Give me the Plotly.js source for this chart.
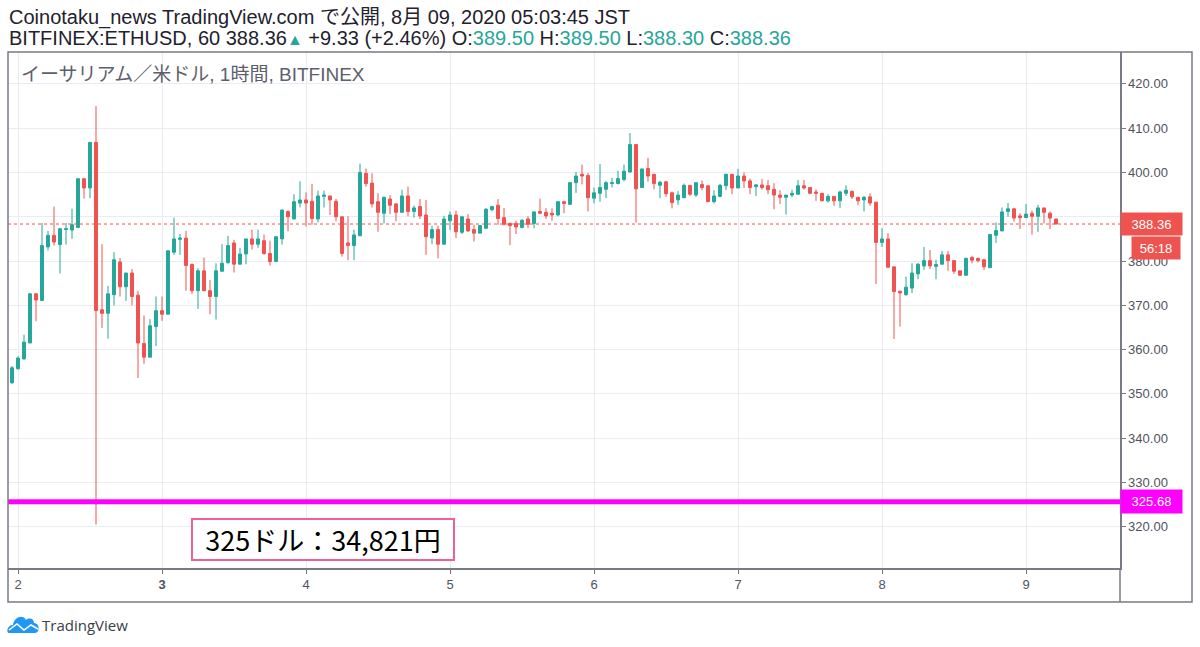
<!DOCTYPE html>
<html>
<head>
<meta charset="utf-8">
<script src="https://cdn.plot.ly/plotly-3.0.1.min.js"></script>
<style>
html,body{margin:0;padding:0;background:#fff;}
#chart{width:1200px;height:647px;}
</style>
</head>
<body>
<div id="chart"></div>
<script>
// ---- data (hourly candles, BITFINEX ETH/USD, starting 2020-08-01 23:00) ----
const startTimeUTC = Date.UTC(2020, 7, 1, 23, 0, 0);

const openPrices = [
352.5,355.7,357.9,361.5,372.6,371.1,383.2,385.8,383.7,387.1,
387.0,387.6,398.6,396.5,406.8,369.0,368.2,372.4,379.8,374.2,
377.3,372.3,361.4,358.3,365.2,368.8,368.0,382.0,384.9,385.2,
379.2,373.3,377.8,373.3,372.0,377.7,379.6,384.1,379.3,381.6,
385.0,383.8,384.6,381.7,379.9,385.0,391.2,389.5,393.1,393.8,
393.5,389.5,394.6,394.7,393.5,390.0,384.1,383.5,385.7,399.8,
397.6,393.4,390.8,394.0,392.9,391.0,394.7,391.2,392.3,390.4,
385.2,387.1,383.8,389.1,390.4,386.5,389.5,387.1,386.3,387.4,
391.6,392.6,389.8,388.5,388.5,387.6,389.5,388.5,391.2,391.0,
390.8,390.4,393.4,392.8,397.7,399.6,399.3,394.2,395.3,396.2,
397.5,397.5,398.4,400.1,406.3,396.6,400.9,399.6,397.1,397.9,
395.4,393.8,394.3,397.1,394.9,397.3,397.0,393.4,394.6,397.0,
399.6,396.5,399.2,398.1,396.8,397.2,397.0,396.2,394.9,394.4,
394.9,395.1,397.0,396.6,395.6,395.3,393.6,394.6,393.6,395.3,
395.7,394.4,393.8,394.5,393.3,384.2,385.0,378.7,373.2,372.4,
373.9,377.1,378.9,380.1,378.8,379.3,381.4,380.1,377.8,376.8,
380.8,380.6,380.3,378.5,385.8,386.8,391.2,391.8,390.2,389.8,
390.8,390.1,392.0,390.8,389.5
];
const highPrices = [
356.3,358.5,363.4,372.8,372.8,388.6,386.8,392.3,387.4,388.6,
391.8,398.6,398.6,406.8,415.0,383.8,374.4,382.0,380.7,377.3,
378.2,373.3,367.7,366.9,372.0,372.0,382.5,389.8,386.1,386.8,
379.5,378.4,380.8,375.7,379.5,383.8,385.7,384.8,383.0,385.0,
387.1,387.1,386.0,384.6,385.5,391.7,391.4,395.1,398.0,395.5,
397.4,395.9,395.9,394.7,394.0,390.0,390.1,387.1,402.0,400.9,
399.8,395.3,394.5,394.9,393.1,396.1,396.8,392.5,394.0,393.8,
388.0,388.0,390.2,391.2,391.4,390.0,390.6,388.2,388.0,392.0,
392.5,394.0,392.0,388.7,389.1,389.5,390.1,391.2,394.1,391.9,
391.9,393.6,393.6,397.8,400.1,401.8,399.9,396.6,401.9,398.1,
398.8,400.4,401.8,408.9,406.4,400.8,403.3,399.6,398.1,398.1,
395.7,395.8,397.5,397.1,397.8,398.2,397.0,396.0,397.4,399.6,
399.6,400.8,400.0,398.6,397.4,398.5,398.3,397.6,396.0,394.9,
396.1,398.3,398.3,396.6,396.2,395.3,395.1,394.6,395.9,397.1,
396.0,394.5,394.7,395.3,393.3,387.4,386.3,378.7,373.3,376.5,
379.5,379.5,383.2,382.5,380.3,382.3,382.3,380.1,377.8,380.8,
381.2,380.8,380.5,386.0,388.7,392.1,393.1,392.0,390.8,392.9,
391.4,392.7,392.0,391.2,389.5
];
const lowPrices = [
352.3,355.5,357.8,361.5,366.4,371.0,382.4,383.5,377.2,383.7,
385.0,387.4,394.1,394.2,320.5,364.9,362.5,370.0,372.0,371.0,
370.0,353.6,356.8,358.3,360.8,366.5,367.9,381.4,381.4,373.3,
372.6,369.2,373.2,368.0,366.8,377.6,379.5,377.4,379.2,379.3,
382.6,383.0,381.4,379.0,379.9,383.7,386.7,389.5,392.1,387.8,
388.2,388.7,392.1,390.4,389.0,381.0,380.2,380.2,385.7,396.8,
392.1,386.6,388.5,390.6,389.0,391.0,390.1,389.8,389.5,381.4,
383.8,380.6,383.8,387.0,385.2,386.1,386.6,384.4,386.3,387.2,
391.2,388.2,388.0,383.6,386.1,387.4,387.4,387.4,390.6,389.5,
389.1,390.1,390.8,392.8,395.4,397.3,391.2,393.0,393.4,394.2,
396.6,397.3,398.0,400.0,388.7,396.6,397.9,396.2,394.2,394.5,
391.9,392.7,394.2,394.7,394.5,396.0,393.4,393.0,394.4,396.0,
395.1,396.5,396.5,395.1,394.7,396.1,395.1,391.7,392.9,390.5,
394.4,394.9,396.1,395.1,393.6,393.5,393.2,392.5,392.0,394.7,
394.0,392.6,391.2,392.5,374.8,383.2,378.6,362.4,365.2,372.2,
372.8,375.9,378.0,378.2,375.9,379.2,377.8,377.1,376.7,376.7,
379.5,379.7,378.0,378.5,384.1,386.8,390.0,388.9,387.2,389.7,
386.0,386.6,388.5,387.2,388.3
];
const closePrices = [
355.9,358.1,361.7,372.6,371.2,383.5,385.8,384.3,387.3,387.3,
388.2,398.6,396.5,406.8,368.8,368.2,372.6,380.3,374.2,377.3,
372.0,361.5,358.3,365.4,368.8,368.0,382.3,385.0,385.2,379.0,
373.3,377.8,373.3,372.0,377.8,379.5,383.5,379.3,381.6,385.0,
383.8,385.0,381.7,379.9,385.5,391.5,390.0,393.4,393.8,393.1,
389.6,394.7,394.9,393.8,390.0,381.7,383.5,385.9,400.0,397.5,
392.9,391.0,394.4,392.6,391.0,394.7,391.2,392.0,390.2,385.5,
387.1,383.8,389.5,390.4,386.6,390.0,386.8,386.3,388.0,391.7,
392.3,389.6,388.3,388.0,387.7,389.2,388.3,391.1,390.8,390.2,
390.4,393.4,393.0,397.7,399.2,399.2,394.3,395.4,396.6,397.7,
397.7,398.6,400.3,406.3,396.3,400.8,399.2,397.5,397.8,395.2,
393.2,394.9,397.1,395.1,397.7,396.6,393.4,394.7,397.1,399.6,
396.5,399.2,398.1,396.6,397.2,396.6,396.1,394.9,394.4,394.9,
395.3,397.0,396.5,395.3,395.3,393.6,394.6,393.6,395.6,396.0,
394.5,393.6,394.4,393.1,384.2,385.0,378.6,373.1,372.8,374.1,
377.3,379.3,380.1,378.9,379.2,381.4,380.1,377.7,376.8,380.6,
380.2,380.1,378.7,386.0,386.9,391.1,391.8,389.7,389.8,390.6,
390.1,392.0,391.0,389.7,388.36
];

const dayTickDates = ['2020-08-02','2020-08-03','2020-08-04','2020-08-05','2020-08-06','2020-08-07','2020-08-08','2020-08-09'];
const dayTickLabels = ['2','<b>3</b>','4','5','6','7','8','9'];
const priceTickValues = [320,330,340,350,360,370,380,390,400,410,420];
// 390.00 sits behind the last-price label in the reference, so it is left blank
const priceTickLabels = ['320.00','330.00','340.00','350.00','360.00','370.00','380.00','','400.00','410.00','420.00'];

const lastPrice = 388.36;
const levelPrice = 325.68;
const countdownText = '56:18';
const chartTitle = 'イーサリアム／米ドル, 1時間, BITFINEX';
const noteText = '325ドル：34,821円';
const headerLine1 = 'Coinotaku_news TradingView.com で公開, 8月 09, 2020 05:03:45 JST';

// ---- build x times ----
const times = openPrices.map((_, i) =>
  new Date(startTimeUTC + i * 3600e3).toISOString().slice(0, 16).replace('T', ' '));

// ---- pixel helpers (plot area: x 8..1120, y 52..568) ----
const PL = 8, PR = 1120, PT = 52, PB = 568;
const px = x => (x - PL) / (PR - PL);
const py = y => (PB - y) / (PB - PT);

const GREEN = '#26a69a', RED = '#ef5350', AXIS = '#787b86', GRID = '#e7edf3';

const trace = {
  type: 'candlestick',
  x: times,
  open: openPrices, high: highPrices, low: lowPrices, close: closePrices,
  increasing: {line: {color: GREEN, width: 1}, fillcolor: GREEN},
  decreasing: {line: {color: RED, width: 1}, fillcolor: RED},
  whiskerwidth: 0,
  hoverinfo: 'skip',
  showlegend: false
};

// cloud logo path
const cloud = 'M ' + px(9) + ',' + py(633) +
  ' C ' + px(6) + ',' + py(633) + ' ' + px(7) + ',' + py(625) + ' ' + px(13) + ',' + py(625) +
  ' C ' + px(14) + ',' + py(617) + ' ' + px(23) + ',' + py(614) + ' ' + px(26) + ',' + py(620) +
  ' C ' + px(30) + ',' + py(617) + ' ' + px(34) + ',' + py(619) + ' ' + px(34) + ',' + py(623) +
  ' C ' + px(40) + ',' + py(623) + ' ' + px(40) + ',' + py(633) + ' ' + px(35) + ',' + py(633) + ' Z';
const zig = 'M ' + px(9) + ',' + py(630) + ' L ' + px(17) + ',' + py(624) + ' L ' + px(24) + ',' + py(630) +
  ' L ' + px(31) + ',' + py(625) + ' L ' + px(38) + ',' + py(629);

const hdrFont = 'Liberation Sans, Noto Sans CJK JP, sans-serif';
const line2 = 'BITFINEX:ETHUSD, 60 388.36<span style="color:' + GREEN + ';font-size:16px">▲</span> +9.33 (+2.46%) ' +
  'O:<span style="color:' + GREEN + '">389.50</span> H:<span style="color:' + GREEN + '">389.50</span> ' +
  'L:<span style="color:' + GREEN + '">388.30</span> C:<span style="color:' + GREEN + '">388.36</span>';

const layout = {
  width: 1200, height: 647,
  margin: {l: PL, r: 1200 - PR, t: PT, b: 647 - PB},
  paper_bgcolor: '#ffffff', plot_bgcolor: '#ffffff',
  showlegend: false,
  xaxis: {
    type: 'date',
    range: ['2020-08-01 22:20', '2020-08-09 15:40'],
    rangeslider: {visible: false},
    tickmode: 'array', tickvals: dayTickDates, ticktext: dayTickLabels,
    showgrid: true, gridcolor: GRID, gridwidth: 1,
    showline: true, linecolor: AXIS, linewidth: 1.5,
    ticks: 'outside', ticklen: 4, tickcolor: AXIS,
    tickfont: {family: 'Liberation Sans, sans-serif', size: 13, color: '#50535e'},
    zeroline: false, fixedrange: true
  },
  yaxis: {
    side: 'right',
    range: [310.7, 427.2],
    tickmode: 'array', tickvals: priceTickValues, ticktext: priceTickLabels,
    showgrid: true, gridcolor: GRID, gridwidth: 1,
    showline: true, linecolor: AXIS, linewidth: 1.5,
    ticks: 'outside', ticklen: 4, tickcolor: AXIS,
    tickfont: {family: 'Liberation Sans, sans-serif', size: 13, color: '#50535e'},
    zeroline: false, fixedrange: true
  },
  shapes: [
    {type: 'line', xref: 'paper', yref: 'y', x0: 0, x1: 1, y0: lastPrice, y1: lastPrice,
     line: {color: RED, width: 1, dash: 'dot'}},
    {type: 'line', xref: 'paper', yref: 'y', x0: 0, x1: 1, y0: levelPrice, y1: levelPrice,
     line: {color: '#ff00ff', width: 5}},
    {type: 'rect', xref: 'paper', yref: 'paper', x0: 0, x1: px(1192), y0: py(602), y1: 1,
     line: {color: AXIS, width: 1.5}},
    {type: 'line', xref: 'paper', yref: 'paper', x0: 1, x1: 1, y0: py(602), y1: 0,
     line: {color: AXIS, width: 1.5}},
    {type: 'path', xref: 'paper', yref: 'paper', path: cloud, fillcolor: '#2196f3', line: {width: 0}},
    {type: 'path', xref: 'paper', yref: 'paper', path: zig, line: {color: '#ffffff', width: 1.5}}
  ],
  annotations: [
    {xref: 'paper', yref: 'paper', x: px(7), y: py(17), xanchor: 'left', yanchor: 'middle',
     text: headerLine1, showarrow: false, font: {family: hdrFont, size: 20, color: '#1e222d'}},
    {xref: 'paper', yref: 'paper', x: px(7), y: py(38), xanchor: 'left', yanchor: 'middle',
     text: line2, showarrow: false, font: {family: hdrFont, size: 20, color: '#1e222d'}},
    {xref: 'paper', yref: 'paper', x: px(19), y: py(75), xanchor: 'left', yanchor: 'middle',
     text: chartTitle, showarrow: false, font: {family: hdrFont, size: 19, color: '#5d606b'}},
    {xref: 'paper', yref: 'y', x: 1, y: lastPrice, xanchor: 'left', yanchor: 'middle',
     text: lastPrice.toFixed(2), showarrow: false, bgcolor: RED, width: 57, height: 18, borderpad: 2,
     font: {family: 'Liberation Sans, sans-serif', size: 13, color: '#ffffff'}},
    {xref: 'paper', yref: 'y', x: px(1181), y: lastPrice, yshift: -24, xanchor: 'right', yanchor: 'middle',
     text: countdownText, showarrow: false, bgcolor: RED, width: 44, height: 18, borderpad: 2,
     font: {family: 'Liberation Sans, sans-serif', size: 13, color: '#ffffff'}},
    {xref: 'paper', yref: 'y', x: 1, y: levelPrice, xanchor: 'left', yanchor: 'middle',
     text: levelPrice.toFixed(2), showarrow: false, bgcolor: '#ff00ff', width: 57, height: 19, borderpad: 2,
     font: {family: 'Liberation Sans, sans-serif', size: 13, color: '#ffffff'}},
    {xref: 'paper', yref: 'paper', x: px(323), y: py(539.5), xanchor: 'center', yanchor: 'middle',
     text: noteText, showarrow: false, bgcolor: '#ffffff', bordercolor: '#f0609a', borderwidth: 2,
     width: 256, height: 35, borderpad: 2,
     font: {family: 'Noto Sans CJK JP, sans-serif', size: 27, color: '#000000'}},
    {xref: 'paper', yref: 'paper', x: px(40), y: py(625), xanchor: 'left', yanchor: 'middle',
     text: 'TradingView', showarrow: false, font: {family: 'Open Sans, sans-serif', size: 15, color: '#3a3e48'}}
  ]
};

Plotly.newPlot('chart', [trace], layout, {staticPlot: true, displayModeBar: false});
</script>
</body>
</html>
